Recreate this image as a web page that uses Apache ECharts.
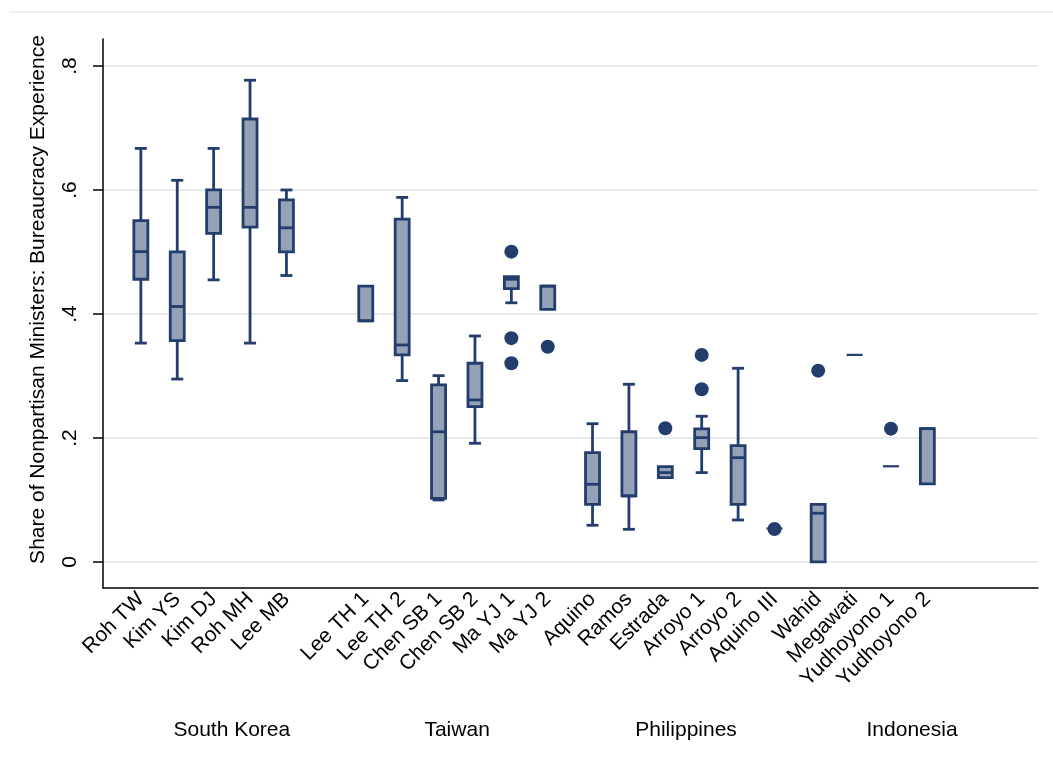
<!DOCTYPE html>
<html>
<head>
<meta charset="utf-8">
<script src="https://cdn.jsdelivr.net/npm/echarts@6/dist/echarts.min.js"></script>
<style>
  html, body { margin: 0; padding: 0; background: #fff; }
  #chart { width: 1053px; height: 771px; }
</style>
</head>
<body>
<div id="chart"></div>
<script>
// groups and leaders
const groups = ['South Korea', 'Taiwan', 'Philippines', 'Indonesia'];
const leaders = [
  ['Roh TW', 'Kim YS', 'Kim DJ', 'Roh MH', 'Lee MB'],
  ['Lee TH 1', 'Lee TH 2', 'Chen SB 1', 'Chen SB 2', 'Ma YJ 1', 'Ma YJ 2'],
  ['Aquino', 'Ramos', 'Estrada', 'Arroyo 1', 'Arroyo 2', 'Aquino III'],
  ['Wahid', 'Megawati', 'Yudhoyono 1', 'Yudhoyono 2']
];

// box statistics, in leader order
const lowVals = [0.353, 0.295, 0.455, 0.353, 0.462,
  0.389, 0.2925, 0.100, 0.1914, 0.418, 0.4075,
  0.0592, 0.0527, 0.136, 0.1441, 0.0677, 0.054,
  0.000, 0.334, 0.1543, 0.1258];
const q1Vals = [0.456, 0.357, 0.530, 0.540, 0.500,
  0.389, 0.334, 0.1027, 0.2505, 0.441, 0.4075,
  0.093, 0.1065, 0.136, 0.1828, 0.093, 0.054,
  0.000, 0.334, 0.1543, 0.1258];
const medVals = [0.5005, 0.412, 0.572, 0.572, 0.539,
  0.389, 0.350, 0.210, 0.2613, 0.456, 0.445,
  0.1253, 0.1065, 0.1441, 0.2005, 0.1682, 0.054,
  0.0786, 0.334, 0.1543, 0.215];
const q3Vals = [0.5505, 0.500, 0.600, 0.7145, 0.584,
  0.445, 0.553, 0.2855, 0.3205, 0.460, 0.445,
  0.1763, 0.210, 0.1538, 0.2145, 0.1876, 0.054,
  0.093, 0.334, 0.1543, 0.215];
const highVals = [0.667, 0.6156, 0.667, 0.777, 0.600,
  0.445, 0.588, 0.3005, 0.3645, 0.460, 0.445,
  0.223, 0.2866, 0.1538, 0.235, 0.3124, 0.054,
  0.093, 0.334, 0.1543, 0.215];

// outside values: [leader, value]
const outliers = [
  ['Ma YJ 1', 0.5005], ['Ma YJ 1', 0.361], ['Ma YJ 1', 0.3205],
  ['Ma YJ 2', 0.347],
  ['Estrada', 0.2156],
  ['Arroyo 1', 0.334], ['Arroyo 1', 0.2785],
  ['Aquino III', 0.0532],
  ['Wahid', 0.3086],
  ['Yudhoyono 1', 0.215]
];

const yTicks = [0, 0.2, 0.4, 0.6, 0.8];
const yTickText = ['0', '.2', '.4', '.6', '.8'];

// layout of the category slots (axis units)
const groupStart = [1.04, 7.22, 13.45, 19.65];
const groupLabelAt = [3.54, 9.73, 16.02, 22.23];
const xMax = 25.69;

const navy = '#233d6d';
const boxFill = '#95a1b7';
const font = 'Liberation Sans, Arial, sans-serif';

const names = [];
const positions = [];
leaders.forEach((list, g) => {
  list.forEach((n, i) => {
    names.push(n);
    positions.push(+(groupStart[g] + i).toFixed(2));
  });
});

const boxData = names.map((n, i) => [positions[i], lowVals[i], q1Vals[i], medVals[i], q3Vals[i], highVals[i]]);
const outlierData = outliers.map(o => [positions[names.indexOf(o[0])], o[1]]);

function labelFor(v) {
  let best = -1, d = 1e9;
  positions.forEach((p, i) => {
    if (Math.abs(p - v) < d) { d = Math.abs(p - v); best = i; }
  });
  return d < 0.05 ? names[best] : '';
}

function renderBox(params, api) {
  const x = api.value(0);
  const lo = api.coord([x, api.value(1)]);
  const b1 = api.coord([x, api.value(2)]);
  const md = api.coord([x, api.value(3)]);
  const b3 = api.coord([x, api.value(4)]);
  const hi = api.coord([x, api.value(5)]);
  const cx = lo[0];
  const bw = 14;
  const cw = 12;
  const ls = { stroke: navy, lineWidth: 2.8 };
  const kids = [];
  if (b3[1] - hi[1] > 0.5) {
    kids.push({ type: 'line', shape: { x1: cx, y1: b3[1], x2: cx, y2: hi[1] }, style: ls });
    kids.push({ type: 'line', shape: { x1: cx - cw / 2, y1: hi[1], x2: cx + cw / 2, y2: hi[1] }, style: ls });
  }
  if (lo[1] - b1[1] > 0.5) {
    kids.push({ type: 'line', shape: { x1: cx, y1: b1[1], x2: cx, y2: lo[1] }, style: ls });
    kids.push({ type: 'line', shape: { x1: cx - cw / 2, y1: lo[1], x2: cx + cw / 2, y2: lo[1] }, style: ls });
  }
  if (b1[1] - b3[1] > 0.5) {
    kids.push({
      type: 'rect',
      shape: { x: cx - bw / 2, y: b3[1], width: bw, height: b1[1] - b3[1] },
      style: { fill: boxFill, stroke: navy, lineWidth: 2.8 }
    });
    kids.push({ type: 'line', shape: { x1: cx - bw / 2, y1: md[1], x2: cx + bw / 2, y2: md[1] }, style: ls });
  } else {
    kids.push({ type: 'line', shape: { x1: cx - bw / 2 - 1, y1: md[1], x2: cx + bw / 2 + 1, y2: md[1] }, style: { stroke: navy, lineWidth: 2.2 } });
  }
  return { type: 'group', children: kids };
}

const chart = echarts.init(document.getElementById('chart'));

const option = {
  animation: false,
  backgroundColor: '#fff',
  grid: { left: 103, right: 15, top: 39, bottom: 183 },
  xAxis: {
    type: 'value',
    min: 0,
    max: xMax,
    axisLine: { show: true, onZero: false, lineStyle: { color: '#000', width: 1.5 } },
    axisTick: { show: false },
    splitLine: { show: false },
    axisLabel: {
      customValues: positions,
      rotate: 45,
      margin: 8,
      fontSize: 21,
      fontFamily: font,
      color: '#000',
      formatter: v => labelFor(v)
    }
  },
  yAxis: {
    type: 'value',
    min: -0.042,
    max: 0.8435,
    name: 'Share of Nonpartisan Ministers: Bureaucracy Experience',
    nameLocation: 'middle',
    nameGap: 54,
    nameTextStyle: { fontSize: 21, fontFamily: font, color: '#000', padding: [0, 0, 0, 28] },
    axisLine: { show: true, lineStyle: { color: '#000', width: 1.5 } },
    axisTick: { show: true, customValues: yTicks, length: 10, lineStyle: { color: '#000', width: 1.5 } },
    splitLine: { show: true, lineStyle: { color: '#e6eaf1', width: 2 } },
    axisLabel: {
      customValues: yTicks,
      rotate: 90,
      margin: 22,
      fontSize: 21,
      fontFamily: font,
      color: '#000',
      formatter: v => {
        const i = yTicks.findIndex(t => Math.abs(t - v) < 1e-6);
        return i >= 0 ? yTickText[i] : '';
      }
    }
  },
  series: [
    {
      type: 'custom',
      renderItem: renderBox,
      data: boxData,
      encode: { x: 0, y: [1, 2, 3, 4, 5] },
      clip: false,
      z: 2
    },
    {
      type: 'scatter',
      data: outlierData,
      symbol: 'circle',
      symbolSize: 14,
      itemStyle: { color: navy, opacity: 1 },
      z: 3
    }
  ]
};

chart.setOption(option);

const graphics = [
  { type: 'line', shape: { x1: 9, y1: 12, x2: 1053, y2: 12 }, style: { stroke: '#e6e9f0', lineWidth: 1.5 } }
];
groups.forEach((g, i) => {
  const px = chart.convertToPixel({ xAxisIndex: 0, yAxisIndex: 0 }, [groupLabelAt[i], 0])[0];
  graphics.push({
    type: 'text',
    x: px,
    y: 730,
    style: { text: g, fontSize: 21, fontFamily: font, fill: '#000', align: 'center', verticalAlign: 'middle' }
  });
});
chart.setOption({ graphic: graphics });
</script>
</body>
</html>
